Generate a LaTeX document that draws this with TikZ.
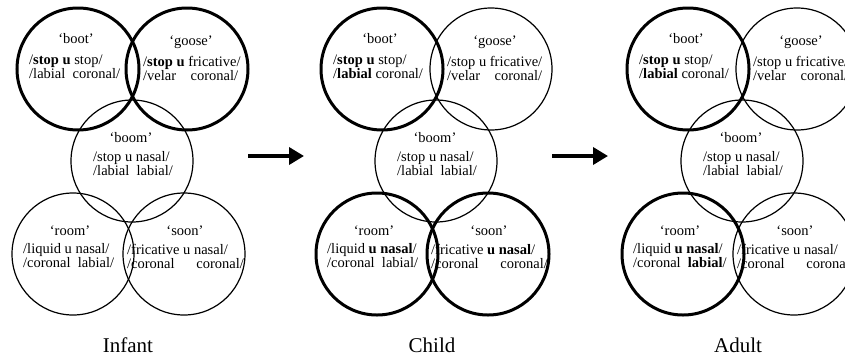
\documentclass[tikz,border=0pt]{standalone}
\usepackage{fontspec}
\setmainfont{Liberation Serif}
\usetikzlibrary{arrows.meta, positioning}
\tikzset{
  >=Stealth,
  stagearrow/.style={-{Triangle[length=15pt, width=17pt]}, line width=3.6pt, black}
}

\begin{document}
\begin{tikzpicture}[
    x=1pt, y=-1pt,
    ring/.style={circle, draw, minimum size=122pt, inner sep=0pt, line width=1.2pt},
    boldring/.style={ring, line width=3pt},
    word/.style={inner sep=0pt, font=\fontsize{14.5}{14}\selectfont},
    form/.style={anchor=west, align=left, inner sep=0pt, font=\fontsize{14.5}{14}\selectfont},
    stage/.style={inner sep=0pt, font=\fontsize{21}{24}\selectfont}
]
    \clip (0,0) rectangle (845,362);

    % Infant
    \begin{scope}[xshift=0]
        \node[boldring] (iboot) at (78,69) {};
        \node[boldring] (igoose) at (187,69) {};
        \node[ring] (iboom) at (132,161) {};
        \node[ring] (iroom) at (73,254) {};
        \node[ring] (isoon) at (184,254) {};
        \node[word] at (76,39) {`boot'};
        \node[form] at (29,67) {/\textbf{stop u} stop/\\/labial\enspace coronal/};
        \node[word] at (191,42) {`goose'};
        \node[form] at (143,68) {/\textbf{stop u} fricative/\\/velar\quad coronal/};
        \node[word] at (131,138) {`boom'};
        \node[form] at (93,164) {/stop u nasal/\\/labial\enspace labial/};
        \node[word] at (70,231) {`room'};
        \node[form] at (23,256) {/liquid u nasal/\\/coronal\enspace labial/};
        \node[word] at (185,231) {`soon'};
        \node[form] at (127,256) {/fricative u nasal/\\/coronal\quad\enspace coronal/};
        \node[stage] (infant) at (128,345) {Infant};
    \end{scope}

    % Child
    \begin{scope}[xshift=304]
        \node[boldring] (cboot) at (78,69) {};
        \node[ring] (cgoose) at (187,69) {};
        \node[ring] (cboom) at (132,161) {};
        \node[boldring] (croom) at (73,254) {};
        \node[boldring] (csoon) at (184,254) {};
        \node[word] at (76,39) {`boot'};
        \node[form] at (29,67) {/\textbf{stop u} stop/\\/\textbf{labial} coronal/};
        \node[word] at (191,42) {`goose'};
        \node[form] at (143,68) {/stop u fricative/\\/velar\quad coronal/};
        \node[word] at (131,138) {`boom'};
        \node[form] at (93,164) {/stop u nasal/\\/labial\enspace labial/};
        \node[word] at (70,231) {`room'};
        \node[form] at (23,256) {/liquid \textbf{u nasal}/\\/coronal\enspace labial/};
        \node[word] at (185,231) {`soon'};
        \node[form] at (127,256) {/fricative \textbf{u nasal}/\\/coronal\quad\enspace coronal/};
        \node[stage] (child) at (128,345) {Child};
    \end{scope}

    % Adult
    \begin{scope}[xshift=610]
        \node[boldring] (aboot) at (78,69) {};
        \node[ring] (agoose) at (187,69) {};
        \node[ring] (aboom) at (132,161) {};
        \node[boldring] (aroom) at (73,254) {};
        \node[ring] (asoon) at (184,254) {};
        \node[word] at (76,39) {`boot'};
        \node[form] at (29,67) {/\textbf{stop u} stop/\\/\textbf{labial} coronal/};
        \node[word] at (191,42) {`goose'};
        \node[form] at (143,68) {/stop u fricative/\\/velar\quad coronal/};
        \node[word] at (131,138) {`boom'};
        \node[form] at (93,164) {/stop u nasal/\\/labial\enspace labial/};
        \node[word] at (70,231) {`room'};
        \node[form] at (23,256) {/liquid \textbf{u nasal}/\\/coronal\enspace \textbf{labial}/};
        \node[word] at (185,231) {`soon'};
        \node[form] at (127,256) {/fricative u nasal/\\/coronal\quad\enspace coronal/};
        \node[stage] (adult) at (128,345) {Adult};
    \end{scope}

    % Arrows
    \coordinate (a1s) at (248,156);
    \coordinate (a1e) at (304,156);
    \coordinate (a2s) at (552,156);
    \coordinate (a2e) at (608,156);
    \draw[stagearrow] (a1s) -- (a1e);
    \draw[stagearrow] (a2s) -- (a2e);
\end{tikzpicture}
\end{document}
